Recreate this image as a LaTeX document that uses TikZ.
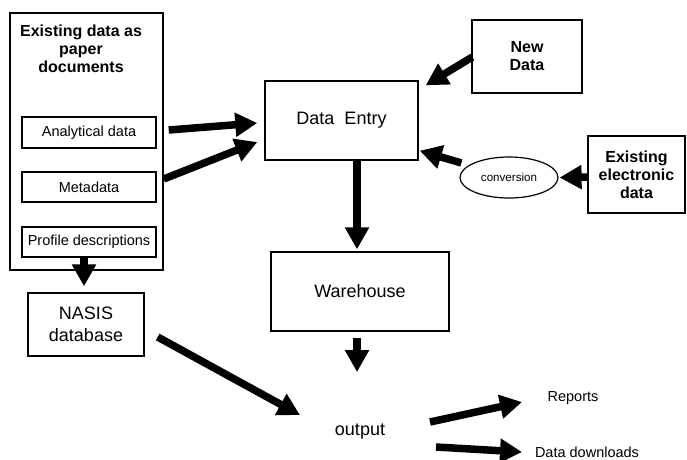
\documentclass[tikz,border=0pt]{standalone}
\usepackage{fontspec}
\setmainfont{Liberation Sans}
\usetikzlibrary{arrows.meta,calc,shapes.geometric}
\begin{document}
\begin{tikzpicture}[x=1pt,y=-1pt,
  box/.style={draw,line width=1.4pt,rectangle,inner sep=0pt},
  fat/.style={line width=7.5pt,-{Triangle[width=23pt,length=22pt]}},
  big/.style={font=\fontsize{18}{22}\selectfont},
  small/.style={font=\fontsize{14.5}{17}\selectfont},
  bold/.style={font=\fontsize{16}{18}\selectfont\bfseries,align=center}]
\useasboundingbox (0,0) rectangle (687,459);
% nodes
\node[box,minimum width=153pt,minimum height=257pt] (paper) at (86.5,141.5) {};
\node[bold] (title) at (81,49) {Existing data as\\paper\\documents};
\node[box,small,minimum width=134pt,minimum height=31pt] (analytical) at (89,132.5) {Analytical data};
\node[box,small,minimum width=134pt,minimum height=30pt] (metadata) at (89,187) {Metadata};
\node[box,small,minimum width=134pt,minimum height=30pt] (profile) at (89,242) {Profile descriptions};
\node[box,big,align=center,minimum width=116pt,minimum height=63pt] (nasis) at (86,324.5) {NASIS\\database};
\node[box,big,minimum width=153pt,minimum height=79pt] (entry) at (341.5,120.5) {Data\ \ Entry};
\node[box,big,minimum width=178pt,minimum height=79pt] (warehouse) at (360,291.5) {Warehouse};
\node[box,bold,minimum width=110pt,minimum height=73pt] (newdata) at (527,56.5) {New\\Data};
\node[box,bold,minimum width=97pt,minimum height=77pt] (existing) at (636.5,174.5) {Existing\\electronic\\data};
\node[draw,line width=1.2pt,ellipse,inner sep=0pt,minimum width=98pt,minimum height=41pt,font=\fontsize{11.6}{13}\selectfont] (conversion) at (509,177.5) {conversion};
\node[big] (output) at (360,432) {output};
\node[small] (reports) at (573,398) {Reports};
\node[small,inner sep=0.5pt] (downloads) at (587,452) {Data downloads};
% arrows
\draw[fat] ($(analytical.east)+(12,-2.5)$) -- ($(entry.west)+(-7,2.5)$);
\draw[fat] ($(metadata.east)+(7,-8)$) -- ($(entry.west)+(-7,21.5)$);
\draw[fat] ($(newdata.west)+(1,0.5)$) -- ($(entry.north east)+(7,5)$);
\draw[fat] ($(conversion.west)+(2,-14.5)$) -- ($(entry.south east)+(1,-10)$);
\draw[fat] ($(existing.west)+(0,2.5)$) -- ($(conversion.east)+(1,0)$);
\draw[fat] ($(entry.south)+(15.5,0)$) -- ($(warehouse.north)+(-3,-2)$);
\draw[fat] ($(warehouse.south)+(-3,6)$) -- ($(output)+(-3,-60)$);
\draw[fat] ($(nasis.east)+(13,12.5)$) -- ($(output)+(-60,-17)$);
\draw[fat] ($(output)+(70,-10)$) -- ($(reports)+(-51,4)$);
\draw[fat] ($(output)+(76,15)$) -- ($(downloads)+(-65,0)$);
\draw[fat] ($(profile.south)+(-5,0)$) -- ($(nasis.north)+(-2,-6)$);
\end{tikzpicture}
\end{document}
